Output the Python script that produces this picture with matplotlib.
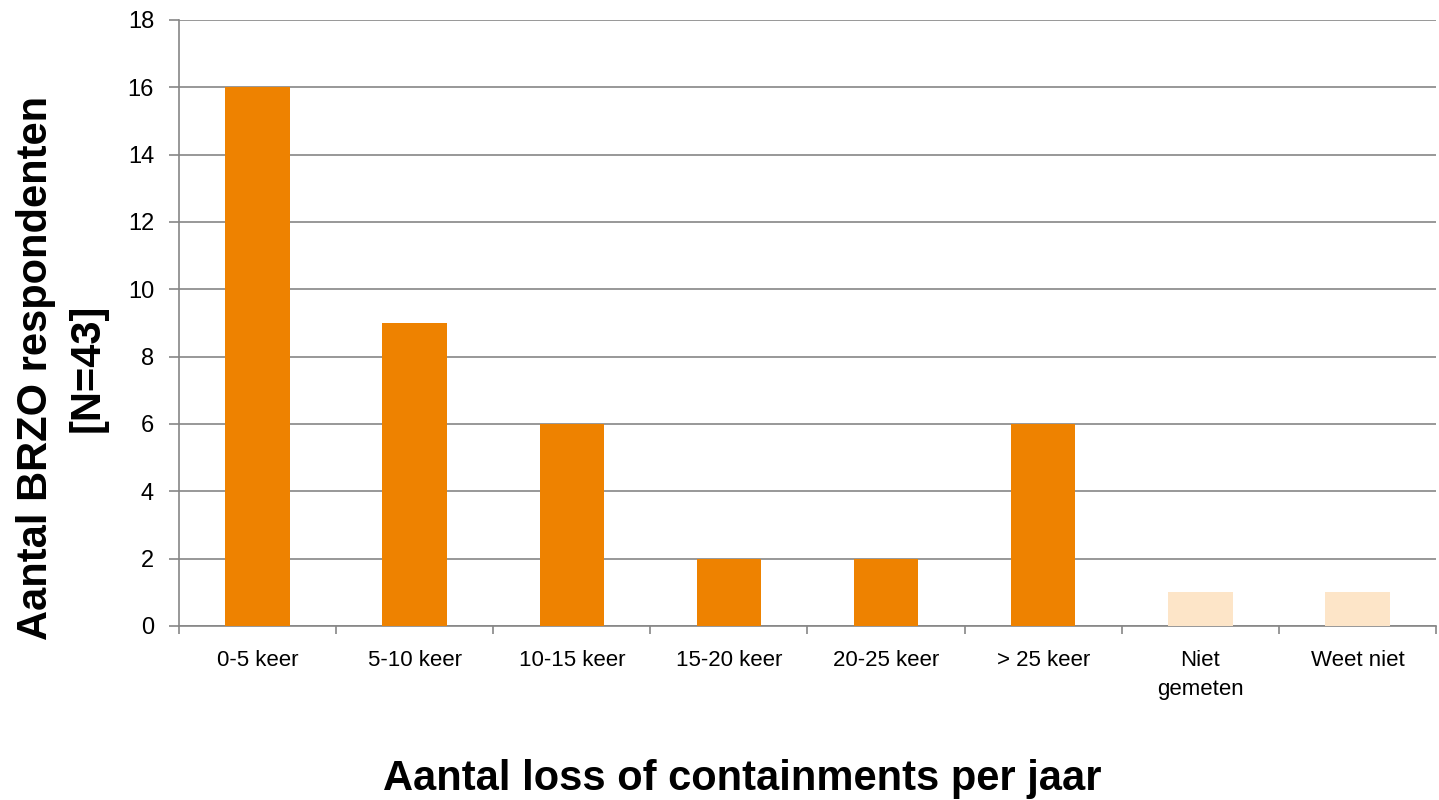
import matplotlib
matplotlib.use('agg')
import matplotlib.pyplot as plt
import numpy as np

plt.rcParams['font.family'] = ['Liberation Sans', 'DejaVu Sans']

categories = ['0-5 keer', '5-10 keer', '10-15 keer', '15-20 keer', '20-25 keer',
              '> 25 keer', 'Niet\ngemeten', 'Weet niet']
counts = [16, 9, 6, 2, 2, 6, 1, 1]
colors = ['#EE8200'] * 6 + ['#FDE5C8'] * 2

fig = plt.figure(figsize=(14.39, 8), dpi=100)
ax = fig.add_axes([0.1244, 0.2175, 0.8735, 0.7575])

x = np.arange(len(categories))
ax.bar(x, counts, width=0.41, color=colors, zorder=3)

ax.set_xlim(-0.5, len(categories) - 0.5)
ax.set_ylim(0, 18)
ax.set_yticks(range(0, 19, 2))
ax.tick_params(axis='y', labelsize=17, length=7, color='#868686', width=1.2, pad=11)
ax.yaxis.grid(True, color='#868686', linewidth=1.2, zorder=0)

# x ticks sit on category boundaries, labels centered under bars
ax.set_xticks(np.arange(len(categories) + 1) - 0.5)
ax.set_xticklabels([])
ax.set_xticks(x, minor=True)
ax.set_xticklabels(categories, minor=True, fontsize=16, linespacing=1.5)
ax.tick_params(axis='x', which='major', length=6, color='#868686', width=1.2)
ax.tick_params(axis='x', which='minor', length=0, pad=17)

for side in ['top', 'right']:
    ax.spines[side].set_visible(False)
for side in ['left', 'bottom']:
    ax.spines[side].set_color('#868686')
    ax.spines[side].set_linewidth(1.2)

fig.text(62 / 1439, 1 - 368 / 800, 'Aantal BRZO respondenten\n[N=43]', fontsize=30,
         fontweight='bold', rotation=90, ha='center', va='center',
         multialignment='center', linespacing=1.38)
fig.text(742 / 1439, 1 - 790 / 800, 'Aantal loss of containments per jaar', fontsize=30,
         fontweight='bold', ha='center', va='baseline')

plt.savefig('out.png', dpi=100)
